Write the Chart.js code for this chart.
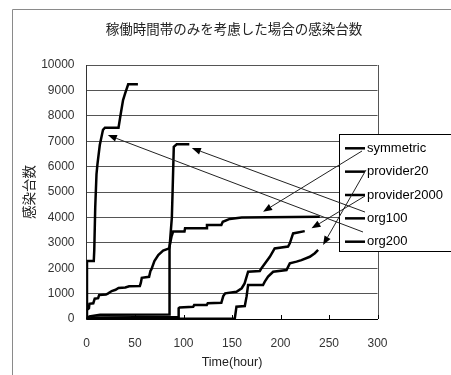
<!DOCTYPE html>
<html>
<head>
<meta charset="utf-8">
<script src="https://cdn.jsdelivr.net/npm/chart.js@4.4.0/dist/chart.umd.min.js"></script>
<style>
body { margin: 0; background: #fff; }
canvas { display: block; }
</style>
</head>
<body>
<canvas id="chartInfected" width="451" height="375"></canvas>
<script>
// series names, in legend order
const seriesNames = ["symmetric", "provider20", "provider2000", "org100", "org200"];

// time (hour) and infected count
const symmetricHour  = [0, 2.5, 3, 7, 8.5, 12, 13, 20, 22, 26, 30, 33, 40, 44, 55, 56, 57, 64.5, 66, 67, 70, 74, 79, 85.2, 87.6, 89.3, 101, 101.6, 123.5, 124.2, 139, 140.5, 147.7, 160, 240.5];
const symmetricCount = [350, 420, 600, 620, 800, 820, 940, 960, 1000, 1100, 1150, 1220, 1240, 1290, 1300, 1420, 1620, 1660, 1900, 1960, 2280, 2520, 2690, 2780, 3240, 3440, 3440, 3570, 3570, 3700, 3700, 3830, 3940, 4000, 4030];

const provider20Hour  = [0, 152.9, 154.6, 163.2, 165, 166.6, 182, 183.8, 187.2, 192.4, 206.2, 209.6, 216.5, 221.6, 230.2, 235.4, 238.8];
const provider20Count = [0, 20, 485, 510, 880, 1340, 1340, 1470, 1670, 1860, 1930, 2190, 2260, 2320, 2450, 2590, 2720];

const provider2000Hour  = [0, 10, 94.4, 95, 96, 110, 111, 124, 125, 139, 141, 143, 154.6, 160, 163, 166.6, 178.7, 180.4, 189, 194, 207.8, 209.6, 213, 225];
const provider2000Count = [0, 60, 80, 420, 450, 480, 550, 550, 620, 640, 900, 1010, 1075, 1210, 1400, 1860, 1890, 2000, 2450, 2780, 2850, 2980, 3370, 3460];

const org100Hour  = [0, 3, 14, 85.2, 85.6, 88, 88.8, 90, 93, 106];
const org100Count = [0, 100, 170, 180, 2800, 4000, 5080, 6780, 6880, 6880];

const org200Hour  = [0, 0.5, 7.5, 8, 9, 10.3, 11.3, 13.7, 17, 19, 33, 35.4, 37.7, 40, 43, 53];
const org200Count = [0, 2280, 2280, 2700, 4400, 5700, 6100, 6850, 7450, 7530, 7530, 8100, 8620, 8900, 9240, 9240];

// where each legend arrow points (hour, count)
const arrowHour  = [182, 243.9, 232, 108.6, 22];
const arrowCount = [4225, 2913, 3570, 6730, 7240];

const xTickValues = [0, 50, 100, 150, 200, 250, 300];
const yTickValues = [0, 1000, 2000, 3000, 4000, 5000, 6000, 7000, 8000, 9000, 10000];

const allHours = [symmetricHour, provider20Hour, provider2000Hour, org100Hour, org200Hour];
const allCounts = [symmetricCount, provider20Count, provider2000Count, org100Count, org200Count];

function toPoints(hours, counts) {
    return hours.map((h, i) => ({ x: h, y: counts[i] }));
}

// outer frame, plot border and the small inside ticks
const frame = {
    id: 'frame',
    beforeDraw(chart) {
        const ctx = chart.ctx;
        ctx.save();
        ctx.fillStyle = '#fff';
        ctx.fillRect(0, 0, chart.width, chart.height);
        ctx.strokeStyle = '#8a8a8a';
        ctx.lineWidth = 1;
        ctx.beginPath();
        ctx.moveTo(12.5, chart.height);
        ctx.lineTo(12.5, 9.5);
        ctx.lineTo(chart.width, 9.5);
        ctx.stroke();
        ctx.restore();
    },
    beforeDatasetsDraw(chart) {
        const ctx = chart.ctx;
        const a = chart.chartArea;
        const x = chart.scales.x;
        ctx.save();
        ctx.strokeStyle = '#555';
        ctx.lineWidth = 1;
        const r = Math.round(a.right) + 0.5;
        ctx.beginPath();
        ctx.moveTo(r, a.top);
        ctx.lineTo(r, a.bottom);
        ctx.stroke();
        ctx.strokeStyle = '#000';
        ctx.beginPath();
        xTickValues.forEach(v => {
            const px = Math.round(x.getPixelForValue(v)) + 0.5;
            ctx.moveTo(px, a.bottom);
            ctx.lineTo(px, a.bottom - 4);
        });
        ctx.stroke();
        ctx.restore();
    }
};

function drawArrow(ctx, x0, y0, x1, y1) {
    const ang = Math.atan2(y1 - y0, x1 - x0);
    const len = 9, hw = 3.5;
    const bx = x1 - len * Math.cos(ang);
    const by = y1 - len * Math.sin(ang);
    ctx.beginPath();
    ctx.moveTo(x0, y0);
    ctx.lineTo(bx, by);
    ctx.stroke();
    ctx.beginPath();
    ctx.moveTo(x1, y1);
    ctx.lineTo(bx + hw * Math.sin(ang), by - hw * Math.cos(ang));
    ctx.lineTo(bx - hw * Math.sin(ang), by + hw * Math.cos(ang));
    ctx.closePath();
    ctx.fill();
}

// boxed legend that sits over the plot, with arrows to each line
const boxLegend = {
    id: 'boxLegend',
    afterDraw(chart) {
        const ctx = chart.ctx;
        const left = 339.5, top = 134.5, h = 117;
        const first = 148.3, step = 23.35;
        const textX = 367;
        ctx.save();
        ctx.fillStyle = '#fff';
        ctx.fillRect(left, top, chart.width, h);
        ctx.strokeStyle = '#000';
        ctx.lineWidth = 1;
        ctx.strokeRect(left, top, chart.width, h);
        ctx.font = '13px "Liberation Sans", Arial, sans-serif';
        ctx.textBaseline = 'middle';
        chart.data.datasets.forEach((ds, i) => {
            const y = first + i * step;
            ctx.strokeStyle = ds.borderColor;
            ctx.lineWidth = 2.5;
            ctx.beginPath();
            ctx.moveTo(345, y);
            ctx.lineTo(365, y);
            ctx.stroke();
            ctx.fillStyle = '#000';
            ctx.fillText(ds.label, textX, y);
        });

        const tailDx = [-5, -1, -2, -2, -4];
        const tailDy = [2.7, -1.7, 1, -6.3, -9.7];
        ctx.strokeStyle = '#222';
        ctx.fillStyle = '#000';
        ctx.lineWidth = 1;
        arrowHour.forEach((hr, i) => {
            const tx = textX + tailDx[i];
            const ty = first + i * step + tailDy[i];
            const hx = chart.scales.x.getPixelForValue(hr);
            const hy = chart.scales.y.getPixelForValue(arrowCount[i]);
            drawArrow(ctx, tx, ty, hx, hy);
        });
        ctx.restore();
    }
};

new Chart(document.getElementById('chartInfected'), {
    type: 'line',
    data: {
        datasets: seriesNames.map((name, i) => ({
            label: name,
            data: toPoints(allHours[i], allCounts[i]),
            borderColor: '#000',
            borderWidth: 2.5,
            pointRadius: 0,
            tension: 0,
            fill: false
        }))
    },
    options: {
        responsive: false,
        animation: false,
        layout: { padding: { left: 17, right: 0, top: 0, bottom: 0 } },
        plugins: {
            legend: { display: false },
            tooltip: { enabled: false },
            title: {
                display: true,
                text: '稼働時間帯のみを考慮した場合の感染台数',
                color: '#222',
                font: { family: '"Noto Sans CJK JP", sans-serif', size: 13.5, weight: 'normal' },
                padding: { top: 21, bottom: 27.8 }
            }
        },
        scales: {
            x: {
                type: 'linear',
                min: 0,
                max: 300,
                grid: { display: false },
                border: { color: '#000', width: 1 },
                ticks: {
                    color: '#333',
                    padding: 9,
                    font: { family: '"Liberation Sans", Arial, sans-serif', size: 12 }
                },
                title: {
                    display: true,
                    text: 'Time(hour)',
                    color: '#222',
                    font: { family: '"Liberation Sans", Arial, sans-serif', size: 12.5 },
                    padding: { top: 0, bottom: 4.5 }
                },
                afterBuildTicks(s) { s.ticks = xTickValues.map(v => ({ value: v })); },
                afterFit(s) { s.height = 56; }
            },
            y: {
                type: 'linear',
                min: 0,
                max: 10000,
                grid: { color: '#555', lineWidth: 1, drawTicks: false },
                border: { color: '#333', width: 1 },
                ticks: {
                    color: '#333',
                    padding: 12,
                    font: { family: '"Liberation Sans", Arial, sans-serif', size: 12 },
                    callback: v => String(v)
                },
                title: {
                    display: true,
                    text: '感染台数',
                    color: '#222',
                    font: { family: '"Noto Sans CJK JP", sans-serif', size: 13.5 },
                    padding: { top: 4, bottom: 0 }
                },
                afterBuildTicks(s) { s.ticks = yTickValues.map(v => ({ value: v })); },
                afterFit(s) { s.width = 69.5; }
            },
            pad: {
                type: 'linear',
                position: 'right',
                display: true,
                grid: { display: false },
                border: { display: false },
                ticks: { display: false },
                afterFit(s) { s.width = 73.5; }
            }
        }
    },
    plugins: [frame, boxLegend]
});
</script>
</body>
</html>
